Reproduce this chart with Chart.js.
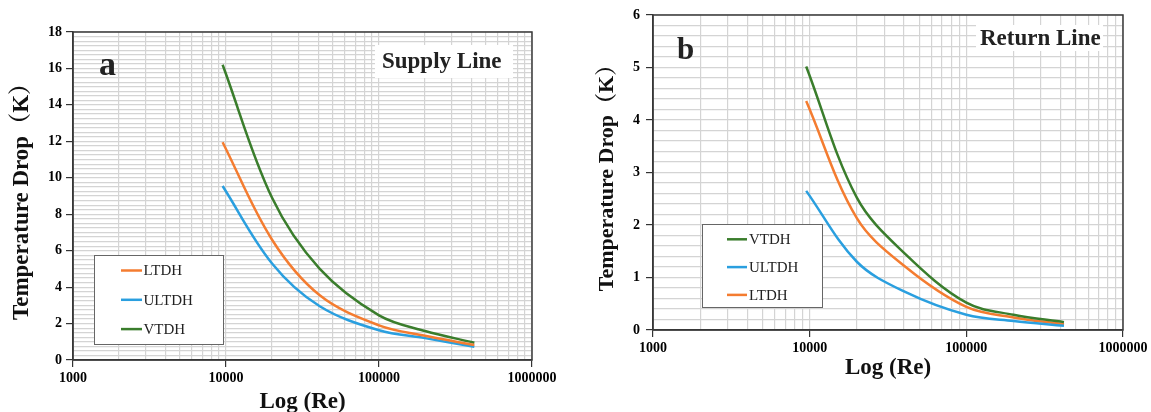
<!DOCTYPE html>
<html>
<head>
<meta charset="utf-8">
<script src="https://cdn.jsdelivr.net/npm/chart.js@4.4.1/dist/chart.umd.min.js"></script>
<style>
body { margin: 0; background: #fff; }
.box { position: absolute; top: 0; height: 412px; }
#boxA { left: 0; width: 570px; }
#boxB { left: 575px; width: 576px; }
</style>
</head>
<body>
<div class="box" id="boxA"><canvas id="supply"></canvas></div>
<div class="box" id="boxB"><canvas id="return"></canvas></div>
<script>
// Reynolds numbers of the computed points
var re = [9500, 20000, 41000, 100000, 200000, 420000];

// supply line (a)
var supplyLTDH = [11.95, 6.6, 3.55, 1.9, 1.33, 0.82];
var supplyULTDH = [9.55, 5.3, 2.95, 1.63, 1.2, 0.73];
var supplyVTDH = [16.2, 8.9, 5.0, 2.45, 1.59, 0.95];

// return line (b)
var returnVTDH = [5.02, 2.52, 1.44, 0.52, 0.29, 0.15];
var returnULTDH = [2.65, 1.3, 0.72, 0.29, 0.17, 0.08];
var returnLTDH = [4.36, 2.13, 1.2, 0.44, 0.24, 0.11];

// tick labels
var xLabels = [1000, 10000, 100000, 1000000];
var supplyYLabels = [0, 2, 4, 6, 8, 10, 12, 14, 16, 18];
var returnYLabels = [0, 1, 2, 3, 4, 5, 6];

const SERIF = "'Liberation Serif', 'Times New Roman', 'Noto Serif CJK SC', 'Noto Sans CJK SC', serif";
const ORANGE = '#F47C30';
const BLUE = '#2A9FDF';
const GREEN = '#3A7D2C';

// gridline positions: 1..9 in every decade
var xGrid = [];
for (let i = 0; i < xLabels.length - 1; i++) {
    for (let k = 1; k < 10; k++) xGrid.push(xLabels[i] * k);
}
xGrid.push(xLabels[xLabels.length - 1]);

function yGrid(labels, parts) {
    var out = [];
    for (let i = 0; i < labels.length - 1; i++) {
        let step = (labels[i + 1] - labels[i]) / parts;
        for (let k = 0; k < parts; k++) out.push(+(labels[i] + k * step).toFixed(4));
    }
    out.push(labels[labels.length - 1]);
    return out;
}

function points(vals) {
    return re.map((r, i) => ({x: r, y: vals[i]}));
}

const framePlugin = {
    id: 'frame',
    afterDraw(chart, args, opts) {
        const ctx = chart.ctx;
        const a = chart.chartArea;
        ctx.save();
        // title boxes
        opts.texts.forEach(t => {
            if (t.bg) {
                ctx.fillStyle = '#fff';
                ctx.fillRect(a.left + t.bg[0], a.top + t.bg[1], t.bg[2], t.bg[3]);
            }
            ctx.fillStyle = '#222';
            ctx.font = 'bold ' + t.size + 'px ' + SERIF;
            ctx.textAlign = 'left';
            ctx.textBaseline = 'alphabetic';
            ctx.fillText(t.text, a.left + t.x, a.top + t.y);
        });
        // legend box
        const L = opts.legend;
        const bx = a.left + L.x, by = a.top + L.y;
        ctx.fillStyle = '#fff';
        ctx.fillRect(bx, by, L.w, L.h);
        ctx.strokeStyle = '#666';
        ctx.lineWidth = 1;
        ctx.strokeRect(bx + 0.5, by + 0.5, L.w, L.h);
        ctx.font = '15px ' + SERIF;
        ctx.textBaseline = 'middle';
        chart.data.datasets.forEach((ds, i) => {
            let yy = by + L.first + i * L.gap;
            ctx.strokeStyle = ds.borderColor;
            ctx.lineWidth = 2.5;
            ctx.beginPath();
            ctx.moveTo(bx + L.lineFrom, yy);
            ctx.lineTo(bx + L.lineTo, yy);
            ctx.stroke();
            ctx.fillStyle = '#222';
            ctx.fillText(ds.label, bx + L.textAt, yy + 1);
        });
        // plot frame
        ctx.strokeStyle = '#3a3a3a';
        ctx.lineWidth = 1.5;
        ctx.strokeRect(a.left, a.top, a.right - a.left, a.bottom - a.top);
        ctx.restore();
    }
};

function graphicConstruct(id, datasets, yLabels, yParts, opts) {
    var yTicks = yGrid(yLabels, yParts);
    const config = {
        type: 'line',
        data: {
            datasets: datasets.map(d => ({
                label: d.label,
                data: points(d.data),
                borderColor: d.color,
                backgroundColor: d.color,
                borderWidth: 2.5,
                pointRadius: 0,
                tension: 0.35,
                fill: false
            }))
        },
        options: {
            responsive: true,
            maintainAspectRatio: false,
            animation: false,
            layout: {padding: opts.padding},
            scales: {
                x: {
                    type: 'logarithmic',
                    min: xLabels[0],
                    max: xLabels[xLabels.length - 1],
                    afterBuildTicks: function (scale) {
                        scale.ticks = xGrid.map(v => ({value: v}));
                    },
                    afterFit: function (scale) {
                        scale.height = opts.xHeight;
                    },
                    ticks: {
                        autoSkip: false,
                        maxRotation: 0,
                        padding: 3,
                        color: '#000',
                        font: {family: SERIF, size: 14, weight: 'bold'},
                        callback: function (value) {
                            return xLabels.indexOf(value) >= 0 ? String(value) : '';
                        }
                    },
                    grid: {
                        color: '#d4d4d4',
                        lineWidth: 1.2,
                        tickLength: 7,
                        tickColor: function (context) {
                            return context.tick && xLabels.indexOf(context.tick.value) >= 0 ? '#333' : 'rgba(0,0,0,0)';
                        }
                    },
                    border: {color: '#333', width: 1.5},
                    title: {
                        display: true,
                        text: 'Log (Re)',
                        color: '#111',
                        font: {family: SERIF, size: 23, weight: 'bold'},
                        padding: {top: 0, bottom: opts.xTitlePad}
                    }
                },
                y: {
                    min: yLabels[0],
                    max: yLabels[yLabels.length - 1],
                    afterBuildTicks: function (scale) {
                        scale.ticks = yTicks.map(v => ({value: v}));
                    },
                    afterFit: function (scale) {
                        scale.width = opts.yWidth;
                    },
                    ticks: {
                        autoSkip: false,
                        padding: opts.yTickPad,
                        color: '#000',
                        font: {family: SERIF, size: 14, weight: 'bold'},
                        callback: function (value) {
                            return yLabels.indexOf(value) >= 0 ? String(value) : '';
                        }
                    },
                    grid: {
                        color: '#d4d4d4',
                        lineWidth: 1.2,
                        tickLength: 7,
                        tickColor: function (context) {
                            return context.tick && yLabels.indexOf(context.tick.value) >= 0 ? '#333' : 'rgba(0,0,0,0)';
                        }
                    },
                    border: {color: '#333', width: 1.5},
                    title: {
                        display: true,
                        text: 'Temperature Drop（K）',
                        color: '#111',
                        font: {family: SERIF, size: opts.yTitleSize, weight: 'bold'},
                        padding: {top: opts.yTitlePad, bottom: 0}
                    }
                }
            },
            plugins: {
                legend: {display: false},
                tooltip: {enabled: false},
                frame: {texts: opts.texts, legend: opts.legend}
            }
        },
        plugins: [framePlugin]
    };
    return new Chart(document.getElementById(id), config);
}

graphicConstruct('supply', [
    {label: 'LTDH', data: supplyLTDH, color: ORANGE},
    {label: 'ULTDH', data: supplyULTDH, color: BLUE},
    {label: 'VTDH', data: supplyVTDH, color: GREEN}
], supplyYLabels, 8, {
    padding: {top: 32, right: 38, left: 0, bottom: 0},
    xHeight: 52,
    yWidth: 73,
    xTitlePad: -4,
    yTitlePad: 8,
    yTitleSize: 23,
    yTickPad: 4,
    texts: [
        {text: 'a', x: 26, y: 43, size: 34},
        {text: 'Supply Line', x: 309, y: 36, size: 23, bg: [302, 13, 138, 33]}
    ],
    legend: {x: 21, y: 223, w: 129, h: 89, first: 15.5, gap: 29.3, lineFrom: 27, lineTo: 48, textAt: 49.5}
});

graphicConstruct('return', [
    {label: 'VTDH', data: returnVTDH, color: GREEN},
    {label: 'ULTDH', data: returnULTDH, color: BLUE},
    {label: 'LTDH', data: returnLTDH, color: ORANGE}
], returnYLabels, 5, {
    padding: {top: 15, right: 28, left: 0, bottom: 0},
    xHeight: 82,
    yWidth: 78,
    xTitlePad: 30,
    yTitlePad: 19,
    yTitleSize: 22,
    yTickPad: 6,
    texts: [
        {text: 'b', x: 24, y: 44, size: 31},
        {text: 'Return Line', x: 327, y: 30, size: 23, bg: [323, 10, 127, 26]}
    ],
    legend: {x: 49, y: 209, w: 120, h: 83, first: 15.3, gap: 27.8, lineFrom: 25, lineTo: 45, textAt: 47}
});
</script>
</body>
</html>
